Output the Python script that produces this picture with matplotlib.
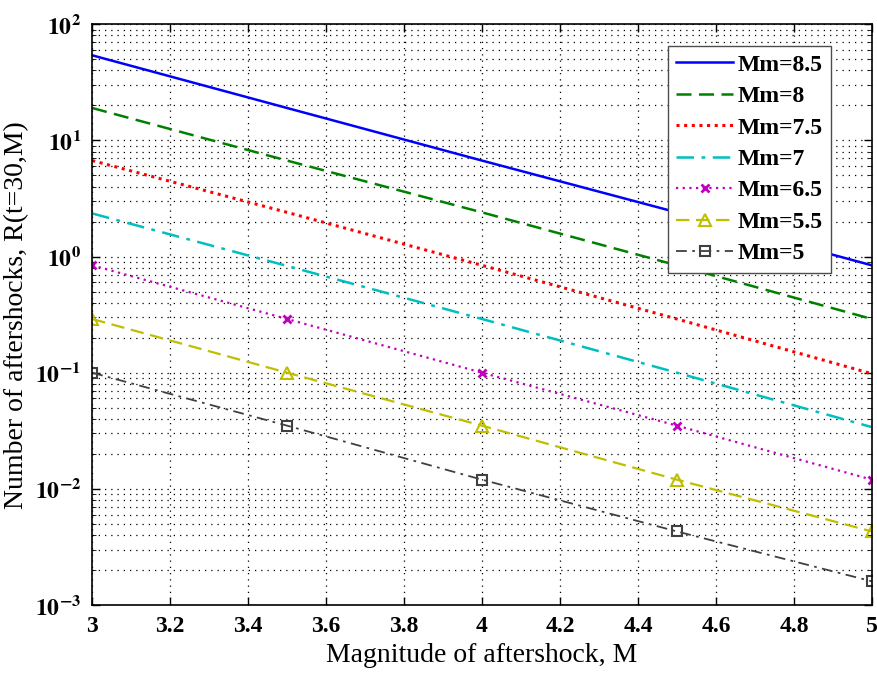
import numpy as np
import matplotlib
matplotlib.use("Agg")
from matplotlib import pyplot as plt
from matplotlib.ticker import LogLocator, FixedLocator, FuncFormatter

plt.rcParams['font.family'] = ['Liberation Serif', 'DejaVu Serif']
plt.rcParams['mathtext.fontset'] = 'stix'

# magnitude of aftershock
M = [3.0, 3.5, 4.0, 4.5, 5.0]

# R(t=30, M), one list per main shock magnitude
r_85 = [54, 19, 6.7, 2.4, 0.84]
r_80 = [19, 6.7, 2.4, 0.84, 0.29]
r_75 = [6.7, 2.4, 0.84, 0.29, 0.098]
r_70 = [2.35, 0.83, 0.29, 0.1, 0.034]
r_65 = [0.84, 0.29, 0.1, 0.035, 0.012]
r_55 = [0.29, 0.1, 0.035, 0.012, 0.0043]
r_50 = [0.1, 0.035, 0.012, 0.0043, 0.0016]

labels = ["Mm=8.5", "Mm=8", "Mm=7.5", "Mm=7", "Mm=6.5", "Mm=5.5", "Mm=5"]
series = [r_85, r_80, r_75, r_70, r_65, r_55, r_50]

styles = [
    dict(color=(0, 0, 1), ls='-', lw=1.8),
    dict(color=(0, 0.5, 0), ls=(0, (6, 3)), lw=1.8),
    dict(color=(1, 0, 0), ls=(0, (1, 1.5)), lw=2.2),
    dict(color=(0, 0.75, 0.75), ls=(0, (7, 3, 1.5, 3)), lw=1.8),
    dict(color=(0.75, 0, 0.75), ls=(0, (1, 2)), lw=1.6, marker='x', ms=6, mew=2),
    dict(color=(0.75, 0.75, 0), ls=(0, (6, 3)), lw=1.6, marker='^', ms=9,
         mfc='none', mew=1.5),
    dict(color=(0.25, 0.25, 0.25), ls=(0, (6, 3, 1.5, 3)), lw=1.3, marker='s',
         ms=7, mfc='none', mew=1.5),
]

fig = plt.figure(figsize=(8.78, 6.73), dpi=100)
ax = fig.add_axes([0.105, 0.101, 0.888, 0.863])

for y, lab, st in zip(series, labels, styles):
    ax.semilogy(M, y, label=lab, **st)

ax.set_xlim(3, 5)
ax.set_ylim(1e-3, 1e2)
ax.xaxis.set_major_locator(FixedLocator(np.arange(3, 5.01, 0.2)))
ax.xaxis.set_major_formatter(FuncFormatter(lambda v, p: '%g' % round(v, 1)))
ax.yaxis.set_major_locator(LogLocator(base=10, numticks=10))
ax.yaxis.set_minor_locator(LogLocator(base=10, subs=np.arange(2, 10), numticks=20))
ax.yaxis.set_major_formatter(FuncFormatter(lambda v, p: r'$\mathbf{10^{%d}}$' % round(np.log10(v))))

ax.tick_params(which='both', direction='in', top=True, right=True)
ax.tick_params(which='major', length=6, width=1)
ax.tick_params(which='minor', length=3)
for lab in ax.get_xticklabels():
    lab.set_fontweight('bold')
ax.tick_params(axis='both', labelsize=17, pad=8)

grid_ls = (0, (1, 4))
ax.grid(True, which='major', ls=grid_ls, color='k', lw=0.9)
ax.grid(True, which='minor', axis='y', ls=grid_ls, color='k', lw=0.9)
for sp in ax.spines.values():
    sp.set_linewidth(1.2)

ax.set_xlabel("Magnitude of aftershock, M", fontsize=20)
ax.set_ylabel("Number of aftershocks, R(t=30,M)", fontsize=20)

leg = ax.legend(loc='upper right', bbox_to_anchor=(0.963, 0.983), fancybox=False,
                framealpha=1, edgecolor=(0.3, 0.3, 0.3), handlelength=2.4,
                prop={'weight': 'bold', 'size': 17}, borderpad=0.35,
                labelspacing=0.42, handletextpad=0.2)
leg.get_frame().set_linewidth(1)

plt.savefig("out.png")
